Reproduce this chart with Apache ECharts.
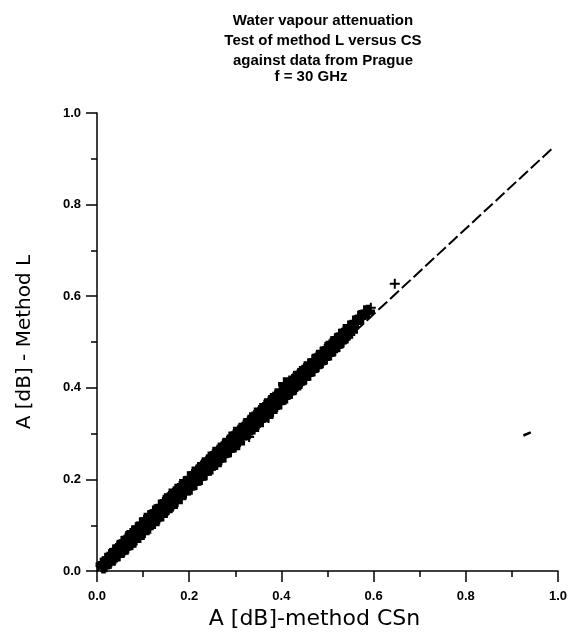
<!DOCTYPE html>
<html>
<head>
<meta charset="utf-8">
<script src="https://cdn.jsdelivr.net/npm/echarts@6/dist/echarts.min.js"></script>
<style>
  html, body { margin: 0; padding: 0; background: #fff; }
  #chart { width: 570px; height: 635px; }
</style>
</head>
<body>
<div id="chart"></div>
<script>
// measured points, upper half of the band (A CSn, A method L)
const upperPoints = [
  [0.012,0.014],[0.016,0.017],[0.021,0.024],[0.025,0.027],[0.031,0.035],[0.034,0.034],[0.039,0.043],[0.044,0.046],
  [0.048,0.053],[0.053,0.054],[0.057,0.062],[0.062,0.064],[0.066,0.072],[0.071,0.072],[0.075,0.079],[0.079,0.085],
  [0.084,0.085],[0.089,0.093],[0.093,0.092],[0.097,0.102],[0.102,0.103],[0.106,0.112],[0.111,0.110],[0.115,0.118],
  [0.120,0.120],[0.124,0.128],[0.129,0.130],[0.133,0.130],[0.138,0.141],[0.142,0.142],[0.147,0.151],[0.151,0.148],
  [0.156,0.157],[0.160,0.165],[0.165,0.163],[0.169,0.170],[0.174,0.169],[0.178,0.177],[0.183,0.186],[0.187,0.185],
  [0.192,0.192],[0.196,0.191],[0.201,0.202],[0.205,0.203],[0.210,0.213],[0.214,0.209],[0.219,0.218],[0.223,0.216],
  [0.228,0.226],[0.232,0.233],[0.237,0.232],[0.241,0.240],[0.246,0.239],[0.250,0.247],[0.255,0.256],[0.259,0.252],
  [0.264,0.261],[0.268,0.259],[0.273,0.268],[0.277,0.276],[0.282,0.275],[0.286,0.283],[0.291,0.282],[0.295,0.290],
  [0.300,0.300],[0.304,0.295],[0.309,0.304],[0.313,0.302],[0.318,0.311],[0.322,0.319],[0.327,0.318],[0.331,0.326],
  [0.336,0.325],[0.340,0.333],[0.345,0.342],[0.349,0.338],[0.354,0.347],[0.358,0.345],[0.363,0.354],[0.367,0.362],
  [0.372,0.361],[0.376,0.369],[0.381,0.368],[0.385,0.376],[0.390,0.384],[0.394,0.381],[0.399,0.390],[0.403,0.388],
  [0.408,0.408],[0.412,0.399],[0.417,0.408],[0.421,0.406],[0.426,0.415],[0.430,0.422],[0.435,0.420],[0.439,0.428],
  [0.444,0.427],[0.448,0.435],[0.453,0.443],[0.457,0.441],[0.462,0.449],[0.466,0.449],[0.471,0.459],[0.475,0.460],
  [0.480,0.468],[0.484,0.466],[0.489,0.475],[0.493,0.476],[0.498,0.485],[0.502,0.482],[0.507,0.491],[0.511,0.498],
  [0.516,0.498],[0.520,0.505],[0.525,0.505],[0.529,0.514],[0.534,0.516],[0.538,0.524],[0.543,0.523],[0.548,0.531],
  [0.553,0.533],[0.558,0.542],[0.563,0.544],[0.569,0.553],[0.575,0.555],[0.582,0.565],[0.588,0.566]
];

// lower half of the band
const lowerPoints = [
  [0.014,0.010],[0.018,0.013],[0.023,0.019],[0.027,0.020],[0.033,0.028],[0.036,0.027],[0.041,0.034],[0.046,0.036],
  [0.050,0.044],[0.055,0.044],[0.059,0.050],[0.064,0.051],[0.068,0.060],[0.073,0.061],[0.077,0.067],[0.081,0.066],
  [0.086,0.078],[0.091,0.077],[0.095,0.084],[0.099,0.083],[0.104,0.094],[0.108,0.094],[0.113,0.097],[0.117,0.106],
  [0.122,0.107],[0.126,0.116],[0.131,0.113],[0.135,0.122],[0.140,0.125],[0.144,0.133],[0.149,0.131],[0.153,0.138],
  [0.158,0.147],[0.162,0.145],[0.167,0.153],[0.171,0.151],[0.176,0.163],[0.180,0.163],[0.185,0.171],[0.189,0.170],
  [0.194,0.181],[0.198,0.181],[0.203,0.182],[0.207,0.192],[0.212,0.192],[0.216,0.201],[0.221,0.202],[0.225,0.203],
  [0.230,0.214],[0.234,0.213],[0.239,0.224],[0.243,0.224],[0.248,0.226],[0.252,0.235],[0.257,0.236],[0.261,0.244],
  [0.266,0.242],[0.270,0.251],[0.275,0.253],[0.279,0.262],[0.284,0.263],[0.288,0.264],[0.293,0.274],[0.297,0.275],
  [0.302,0.283],[0.306,0.279],[0.311,0.290],[0.315,0.291],[0.320,0.302],[0.324,0.301],[0.329,0.303],[0.333,0.312],
  [0.338,0.314],[0.342,0.322],[0.347,0.319],[0.351,0.328],[0.356,0.330],[0.360,0.340],[0.365,0.341],[0.369,0.341],
  [0.374,0.351],[0.378,0.352],[0.383,0.361],[0.387,0.358],[0.392,0.367],[0.396,0.368],[0.401,0.379],[0.405,0.379],
  [0.410,0.381],[0.414,0.389],[0.419,0.391],[0.423,0.399],[0.428,0.399],[0.432,0.406],[0.437,0.413],[0.441,0.413],
  [0.446,0.420],[0.450,0.421],[0.455,0.430],[0.459,0.430],[0.464,0.439],[0.468,0.440],[0.473,0.447],[0.477,0.448],
  [0.482,0.456],[0.486,0.457],[0.491,0.464],[0.495,0.465],[0.500,0.474],[0.504,0.475],[0.509,0.483],[0.513,0.483],
  [0.518,0.491],[0.522,0.493],[0.527,0.500],[0.531,0.502],[0.536,0.510],[0.540,0.512],[0.545,0.518],[0.551,0.523]
];

// the few loose crosses off the band
const loosePoints = [[0.330,0.293],[0.372,0.334],[0.590,0.562],[0.594,0.575],[0.646,0.627]];

// dashed reference line
const lineX = [0, 0.99];
const lineY = [0, 0.925];

// small stray stroke at lower right of the plot
const strayX = [0.925, 0.941];
const strayY = [0.296, 0.303];

const titleLines = ['Water vapour attenuation', 'Test of method L versus CS', 'against data from Prague'];
const freqLabel = 'f = 30 GHz';

const thickPlus = 'path://M3.4,0H6.6V3.4H10V6.6H6.6V10H3.4V6.6H0V3.4H3.4Z';
const thinPlus = 'path://M4,0H6V4H10V6H6V10H4V6H0V4H4Z';

const chart = echarts.init(document.getElementById('chart'));

const axisCommon = {
  type: 'value',
  min: 0,
  max: 1,
  interval: 0.2,
  axisLine: { lineStyle: { color: '#000', width: 1.5 } },
  axisTick: { length: 11, lineStyle: { color: '#000', width: 1.5 } },
  minorTick: { show: true, splitNumber: 2, length: 6, lineStyle: { color: '#000', width: 1.5 } },
  splitLine: { show: false },
  axisLabel: {
    color: '#000',
    fontFamily: 'Liberation Sans',
    fontWeight: 'bold',
    fontSize: 13,
    formatter: v => v.toFixed(1)
  },
  nameLocation: 'middle',
  nameTextStyle: { color: '#000', fontFamily: 'DejaVu Sans', fontSize: 20 }
};

const option = {
  animation: false,
  backgroundColor: '#fff',
  title: [
    {
      text: titleLines.join('\n'),
      left: 318,
      top: 6,
      textAlign: 'center',
      textStyle: { fontFamily: 'Liberation Sans', fontWeight: 'bold', fontSize: 15, lineHeight: 20, color: '#000' }
    },
    {
      text: freqLabel,
      left: 306,
      top: 64,
      textAlign: 'center',
      textStyle: { fontFamily: 'Liberation Sans', fontWeight: 'bold', fontSize: 15, color: '#000' }
    }
  ],
  grid: { left: 97, right: 10, top: 113, bottom: 61 },
  xAxis: Object.assign({}, axisCommon, {
    name: 'A [dB]-method CSn',
    nameGap: 35,
    axisLabel: Object.assign({}, axisCommon.axisLabel, { margin: 19 }),
    nameTextStyle: Object.assign({}, axisCommon.nameTextStyle, { fontSize: 22, padding: [0, 26, 0, 0] })
  }),
  yAxis: Object.assign({}, axisCommon, {
    name: 'A [dB] - Method L',
    nameGap: 62,
    axisLabel: Object.assign({}, axisCommon.axisLabel, { margin: 16 })
  }),
  series: [
    {
      type: 'line',
      data: lineX.map((x, i) => [x, lineY[i]]),
      symbol: 'none',
      z: 1,
      lineStyle: { color: '#000', width: 2, type: [12, 4] }
    },
    {
      type: 'line',
      data: strayX.map((x, i) => [x, strayY[i]]),
      symbol: 'none',
      lineStyle: { color: '#000', width: 2.5 }
    },
    {
      type: 'scatter',
      data: upperPoints.concat(lowerPoints),
      symbol: thickPlus,
      symbolSize: 14,
      z: 3,
      itemStyle: { color: '#000', opacity: 1 }
    },
    {
      type: 'scatter',
      data: loosePoints,
      symbol: thinPlus,
      symbolSize: 10,
      z: 3,
      itemStyle: { color: '#000', opacity: 1 }
    }
  ]
};

chart.setOption(option);
</script>
</body>
</html>
